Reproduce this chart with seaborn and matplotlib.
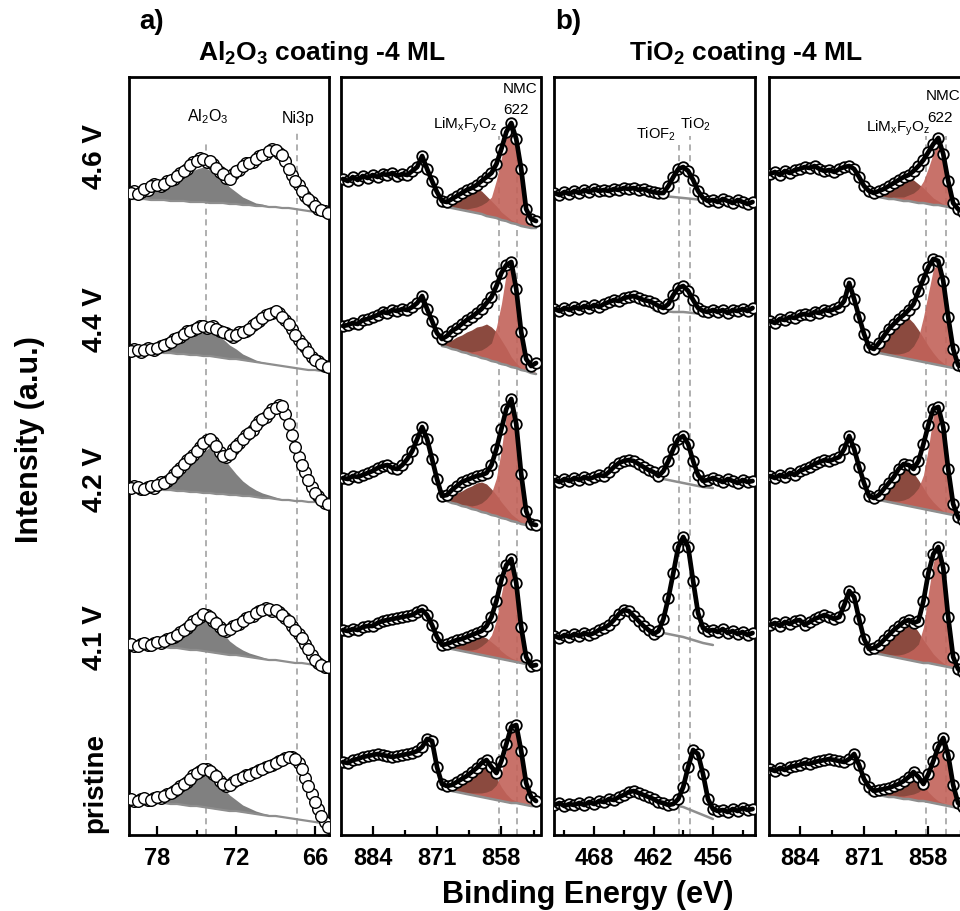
import numpy as np
import pandas as pd
import matplotlib
matplotlib.use("Agg")
import matplotlib.pyplot as plt
from matplotlib import font_manager as fm
import seaborn as sns

# ---------------- data ----------------
ROWS = ["4.6 V", "4.4 V", "4.2 V", "4.1 V", "pristine"]

# Panel a-left : Al 2p / Ni 3p region (Al2O3 coating)
E_AL = [80.0, 79.5, 79.0, 78.5, 78.0, 77.5, 77.0, 76.5, 76.0, 75.5, 75.0, 74.5, 74.0, 73.5, 73.0, 72.5,
        72.0, 71.5, 71.0, 70.5, 70.0, 69.5, 69.0, 68.5, 68.0, 67.5, 67.0, 66.5, 66.0, 65.5, 65.0]
E_AL_MID = [79.75, 79.25, 78.75, 78.25, 77.75, 77.25, 76.75, 76.25, 75.75, 75.25, 74.75, 74.25, 73.75,
            73.25, 72.75, 72.25, 71.75, 71.25, 70.75, 70.25, 69.75, 69.25, 68.75, 68.25, 67.75, 67.25,
            66.75, 66.25, 65.75, 65.25]
OFF_AL = [620, 460, 320, 156, 0]
AL_46 = [22, 21, 26, 29, 30, 31, 35, 39, 44, 50, 54, 56, 54, 47, 41, 36, 44, 49, 52, 56, 60, 64, 65, 60, 46, 34, 24, 16, 9, 5, 2]
AL_44 = [24, 25, 25, 26, 27, 30, 33, 37, 41, 44, 47, 49, 48, 46, 43, 40, 40, 43, 46, 52, 57, 61, 64, 58, 51, 40, 31, 23, 15, 11, 8]
AL_42 = [27, 28, 26, 29, 30, 32, 37, 44, 51, 57, 64, 72, 76, 69, 59, 61, 69, 76, 82, 90, 96, 102, 107, 109, 91, 68, 50, 35, 22, 15, 11]
AL_41 = [35, 33, 36, 34, 37, 38, 41, 44, 49, 54, 60, 65, 62, 56, 49, 50, 54, 58, 62, 66, 69, 70, 69, 64, 58, 49, 41, 30, 19, 14, 12]
AL_PR = [36, 34, 37, 35, 38, 39, 42, 46, 51, 56, 62, 66, 64, 59, 51, 50, 55, 58, 60, 63, 66, 69, 72, 75, 78, 76, 66, 49, 33, 19, 8]
AL_46_MID = [24, 23, 25, 31, 29, 34, 36, 42, 46, 53, 57, 53, 51, 43, 37, 41, 45, 52, 53, 59, 61, 66, 62, 54, 40, 30, 19, 13, 6, 4]
AL_44_MID = [26, 23, 27, 25, 29, 31, 36, 38, 44, 45, 49, 47, 49, 44, 42, 38, 43, 44, 50, 54, 60, 62, 62, 55, 46, 35, 28, 18, 14, 9]
AL_42_MID = [29, 26, 28, 27, 33, 34, 41, 47, 55, 60, 68, 75, 73, 63, 58, 66, 72, 80, 85, 94, 98, 106, 110, 101, 80, 58, 43, 28, 19, 12]
AL_41_MID = [33, 35, 34, 36, 36, 40, 42, 47, 51, 58, 62, 64, 58, 52, 48, 53, 55, 61, 63, 68, 71, 68, 67, 61, 53, 45, 35, 24, 16, 12]
AL_PR_MID = [34, 36, 35, 37, 37, 41, 44, 49, 53, 60, 64, 66, 61, 54, 49, 53, 56, 60, 62, 65, 68, 70, 74, 77, 78, 72, 57, 41, 26, 13]
AL_BG_46 = [16, 16, 16, 15, 15, 15, 14, 14, 14, 13, 13, 13, 12, 12, 12, 11, 11, 10, 10, 9, 9, 8, 8, 7, 7, 6, 5, 4, 3, 3, 2]
AL_BG_44 = [24, 24, 23, 23, 23, 22, 22, 21, 21, 20, 20, 19, 19, 18, 17, 16, 16, 15, 14, 13, 12, 11, 10, 9, 8, 7, 6, 5, 5, 4, 3]
AL_BG_42 = [27, 27, 26, 26, 26, 25, 25, 24, 24, 23, 23, 22, 22, 21, 21, 20, 20, 19, 19, 18, 17, 17, 16, 15, 15, 14, 14, 13, 13, 12, 12]
AL_BG_41 = [34, 34, 33, 33, 32, 32, 31, 31, 30, 29, 29, 28, 27, 26, 25, 24, 24, 23, 22, 21, 20, 19, 19, 18, 17, 16, 16, 15, 14, 14, 13]
AL_BG_PR = [34, 34, 33, 33, 32, 32, 31, 31, 30, 29, 29, 28, 27, 26, 25, 24, 24, 23, 22, 21, 20, 19, 19, 18, 17, 16, 15, 14, 13, 12, 11]
AL_OX_46 = [3, 4, 6, 9, 11, 14, 17, 21, 25, 30, 33, 35, 33, 29, 23, 17, 12, 8, 5, 3, 2, 1, 0.5, 0, 0, 0, 0, 0, 0, 0, 0]
AL_OX_44 = [1, 2, 3, 4, 6, 8, 10, 14, 18, 23, 26, 28, 27, 24, 19, 14, 10, 6, 4, 2, 1, 1, 0, 0, 0, 0, 0, 0, 0, 0, 0]
AL_OX_42 = [2, 3, 4, 5, 7, 9, 12, 16, 21, 27, 34, 41, 46, 44, 37, 29, 21, 15, 10, 7, 5, 3, 2, 1, 1, 0.5, 0, 0, 0, 0, 0]
AL_OX_41 = [1, 1, 2, 2, 3, 4, 6, 9, 13, 19, 26, 31, 32, 28, 21, 14, 9, 6, 4, 3, 2, 1, 1, 0, 0, 0, 0, 0, 0, 0, 0]
AL_OX_PR = [1, 2, 2, 3, 4, 5, 7, 11, 16, 22, 28, 33, 33, 29, 22, 16, 11, 7, 5, 3, 2, 1.5, 1, 0.5, 0, 0, 0, 0, 0, 0, 0]

# Ni 2p region (both coatings)
E_NI = [890, 889, 888, 887, 886, 885, 884, 883, 882, 881, 880, 879, 878, 877, 876, 875, 874, 873, 872, 871,
        870, 869, 868, 867, 866, 865, 864, 863, 862, 861, 860, 859, 858, 857, 856, 855, 854, 853, 852, 851]
E_NI_FIT = [870, 869, 868, 867, 866, 865, 864, 863, 862, 861, 860, 859, 858, 857, 856, 855, 854, 853, 852, 851]

# Al2O3-coated, Ni 2p
OFF_NIA = [600, 460, 300, 160, 20]
NIA_46 = [56, 54, 58, 55, 59, 57, 60, 58, 61, 60, 62, 59, 61, 60, 64, 68, 79, 66, 54, 43,
          34, 33, 36, 39, 42, 45, 47, 50, 54, 58, 62, 71, 86, 103, 112, 96, 66, 26, 16, 14]
NIA_44 = [49, 50, 52, 51, 55, 56, 58, 60, 63, 62, 65, 64, 66, 65, 68, 72, 79, 66, 54, 42,
          36, 39, 44, 47, 51, 55, 58, 62, 66, 72, 78, 89, 102, 110, 113, 86, 43, 16, 9, 12]
NIA_42 = [57, 56, 59, 58, 60, 62, 64, 67, 69, 70, 67, 66, 70, 76, 84, 96, 108, 96, 76, 56,
          39, 40, 45, 49, 53, 55, 57, 59, 60, 62, 70, 86, 106, 126, 136, 111, 61, 24, 11, 10]
NIA_41 = [45, 44, 46, 45, 48, 49, 49, 52, 54, 55, 56, 57, 58, 59, 60, 63, 65, 60, 50, 38,
          30, 31, 33, 35, 36, 38, 40, 42, 44, 49, 58, 74, 95, 110, 116, 92, 48, 18, 9, 10]
NIA_PR = [53, 52, 55, 56, 58, 59, 60, 61, 60, 59, 58, 59, 60, 61, 62, 64, 68, 76, 74, 48,
          31, 29, 30, 33, 36, 39, 43, 47, 52, 55, 48, 42, 54, 71, 88, 90, 64, 32, 18, 14]
NIA_BG_46 = [29, 28, 27, 26, 25, 24, 23, 22, 21, 19, 18, 17, 15, 14, 12, 11, 9, 8, 7, 7]
NIA_BG_44 = [29, 28, 26, 25, 23, 22, 20, 19, 17, 16, 14, 13, 11, 10, 8, 7, 5, 4, 2, 1]
NIA_BG_42 = [35, 34, 32, 31, 29, 28, 26, 25, 23, 22, 20, 19, 17, 16, 14, 13, 11, 10, 8, 7]
NIA_BG_41 = [28, 27, 26, 25, 24, 23, 22, 21, 20, 19, 18, 17, 16, 15, 14, 13, 12, 11, 10, 9]
NIA_BG_PR = [26, 25, 24, 23, 22, 21, 20, 19, 18, 17, 16, 15, 14, 13, 12, 12, 11, 10, 9, 9]
NIA_LIM_46 = [2, 4, 7, 11, 15, 19, 22, 24, 23, 20, 16, 12, 8, 5, 3, 2, 1, 0, 0, 0]
NIA_LIM_44 = [2, 5, 9, 13, 17, 21, 25, 29, 32, 35, 34, 30, 24, 17, 10, 5, 2, 1, 0, 0]
NIA_LIM_42 = [2, 4, 7, 11, 15, 19, 23, 27, 30, 29, 26, 21, 16, 11, 7, 4, 2, 1, 0, 0]
NIA_LIM_41 = [1, 2, 4, 6, 9, 12, 15, 18, 19, 18, 15, 12, 8, 5, 3, 2, 1, 0, 0, 0]
NIA_LIM_PR = [2, 4, 7, 11, 15, 20, 25, 30, 33, 34, 30, 22, 14, 8, 4, 2, 1, 0, 0, 0]
NIA_NMC_46 = [0, 0, 0, 0, 1, 2, 4, 6, 9, 14, 20, 38, 62, 85, 96, 78, 45, 14, 5, 2]
NIA_NMC_44 = [0, 0, 0, 0, 1, 2, 3, 5, 8, 12, 18, 35, 60, 92, 100, 76, 36, 12, 4, 1]
NIA_NMC_42 = [0, 0, 0, 0, 1, 2, 3, 5, 9, 14, 22, 38, 68, 105, 120, 95, 48, 14, 3, 1]
NIA_NMC_41 = [0, 0, 0, 0, 1, 2, 3, 5, 9, 14, 22, 38, 65, 90, 101, 79, 37, 9, 2, 1]
NIA_NMC_PR = [0, 0, 0, 0, 0, 1, 2, 3, 4, 6, 9, 15, 28, 52, 74, 76, 50, 20, 6, 2]

# TiO2-coated, Ti 2p
E_TI = [472.0, 471.5, 471.0, 470.5, 470.0, 469.5, 469.0, 468.5, 468.0, 467.5, 467.0, 466.5, 466.0, 465.5,
        465.0, 464.5, 464.0, 463.5, 463.0, 462.5, 462.0, 461.5, 461.0, 460.5, 460.0, 459.5, 459.0, 458.5,
        458.0, 457.5, 457.0, 456.5, 456.0, 455.5, 455.0, 454.5, 454.0, 453.5, 453.0, 452.5, 452.0]
E_TI_BG = [462, 461, 460, 459, 458, 457, 456]
OFF_TI = [620, 500, 340, 182, 10]
TI_46 = [22, 20, 23, 21, 24, 22, 25, 23, 26, 24, 25, 24, 26, 25, 27, 26, 27, 25, 26, 24, 23, 22, 22, 29,
         38, 46, 48, 44, 35, 24, 17, 14, 15, 13, 16, 14, 12, 15, 13, 11, 13]
TI_44 = [26, 24, 27, 25, 28, 26, 29, 27, 30, 28, 31, 33, 35, 34, 37, 38, 39, 37, 35, 34, 32, 29, 27, 31,
         40, 47, 49, 44, 35, 27, 24, 23, 25, 23, 25, 22, 25, 24, 26, 24, 27]
TI_42 = [15, 13, 16, 14, 17, 15, 18, 16, 18, 20, 19, 23, 28, 32, 34, 35, 34, 31, 28, 25, 23, 19, 24, 34,
         46, 56, 59, 51, 34, 20, 14, 15, 17, 15, 13, 16, 14, 12, 15, 13, 14]
TI_41 = [17, 15, 18, 16, 19, 17, 20, 18, 20, 23, 25, 28, 33, 39, 43, 42, 37, 32, 27, 23, 19, 22, 34, 55,
         80, 106, 116, 106, 72, 40, 25, 22, 23, 21, 24, 20, 22, 19, 21, 18, 20]
TI_PR = [20, 22, 19, 21, 20, 22, 20, 23, 21, 24, 23, 26, 25, 28, 30, 33, 34, 32, 30, 28, 26, 23, 22, 20,
         21, 26, 38, 58, 75, 71, 51, 26, 16, 14, 15, 13, 16, 14, 17, 15, 16]
TI_BG_46 = [20, 19, 18, 17, 16, 15, 14]
TI_BG_44 = [25, 24, 23, 23, 22, 21, 20]
TI_BG_42 = [18, 16, 14, 12, 10, 8, 7]
TI_BG_41 = [20, 20, 18, 16, 13, 10, 8]
TI_BG_PR = [24, 22, 20, 18, 14, 10, 6]

# TiO2-coated, Ni 2p
OFF_NIT = [610, 460, 300, 150, 20]
NIT_46 = [51, 53, 50, 54, 52, 55, 56, 58, 57, 59, 56, 54, 55, 53, 56, 58, 59, 56, 48, 39,
          34, 32, 34, 36, 39, 42, 45, 48, 50, 54, 59, 65, 73, 81, 87, 71, 44, 22, 16, 13]
NIT_44 = [54, 52, 56, 55, 58, 57, 60, 61, 60, 63, 62, 65, 64, 66, 68, 74, 92, 76, 58, 41,
          28, 26, 32, 39, 46, 51, 56, 60, 65, 71, 84, 96, 108, 116, 114, 94, 58, 26, 10, 8]
NIT_42 = [59, 57, 60, 58, 62, 60, 64, 66, 68, 71, 73, 75, 74, 76, 78, 86, 99, 86, 68, 52,
          39, 37, 40, 46, 52, 58, 66, 71, 70, 66, 74, 91, 110, 126, 128, 108, 66, 31, 18, 15]
NIT_41 = [60, 62, 59, 63, 61, 64, 65, 60, 63, 66, 68, 70, 68, 66, 68, 80, 94, 88, 66, 46,
          36, 37, 40, 45, 50, 55, 59, 63, 65, 62, 64, 84, 112, 131, 138, 117, 68, 28, 16, 13]
NIT_PR = [46, 44, 47, 45, 48, 49, 50, 52, 51, 53, 54, 55, 56, 55, 54, 53, 56, 61, 50, 36,
          28, 24, 25, 26, 27, 29, 31, 34, 38, 43, 38, 31, 41, 54, 68, 77, 60, 30, 12, 8]
NIT_BG_46 = [29, 28, 28, 27, 26, 26, 25, 24, 24, 23, 22, 22, 21, 20, 20, 19, 18, 17, 16, 15]
NIT_BG_44 = [24, 23, 22, 21, 20, 19, 18, 17, 16, 15, 14, 13, 12, 11, 10, 9, 8, 7, 6, 5]
NIT_BG_42 = [37, 36, 35, 34, 33, 32, 31, 30, 29, 28, 27, 26, 25, 24, 23, 22, 21, 20, 18, 16]
NIT_BG_41 = [33, 32, 31, 30, 29, 28, 27, 26, 25, 24, 23, 22, 22, 21, 20, 19, 18, 17, 16, 15]
NIT_BG_PR = [21, 20, 20, 19, 18, 18, 17, 16, 16, 15, 14, 14, 13, 12, 11, 10, 9, 8, 7, 6]
NIT_LIM_46 = [2, 4, 6, 9, 12, 15, 18, 21, 23, 22, 19, 15, 11, 7, 4, 2, 1, 0, 0, 0]
NIT_LIM_44 = [1, 3, 8, 18, 25, 32, 38, 42, 41, 37, 31, 24, 17, 11, 6, 3, 1, 0, 0, 0]
NIT_LIM_42 = [2, 4, 7, 11, 17, 24, 32, 39, 38, 34, 28, 21, 14, 9, 5, 2, 1, 0, 0, 0]
NIT_LIM_41 = [2, 5, 9, 14, 20, 26, 32, 36, 38, 36, 30, 23, 16, 10, 6, 3, 1, 0, 0, 0]
NIT_LIM_PR = [1, 2, 3, 5, 7, 10, 13, 17, 22, 26, 23, 16, 10, 6, 3, 2, 1, 0, 0, 0]
NIT_NMC_46 = [0, 0, 0, 0, 1, 2, 3, 4, 6, 9, 14, 22, 36, 52, 64, 50, 25, 7, 3, 1]
NIT_NMC_44 = [0, 0, 0, 0, 1, 2, 3, 5, 8, 14, 24, 45, 70, 95, 102, 82, 45, 16, 5, 1]
NIT_NMC_42 = [0, 0, 0, 0, 1, 2, 3, 5, 8, 13, 20, 34, 62, 96, 103, 84, 44, 12, 3, 1]
NIT_NMC_41 = [0, 0, 0, 0, 1, 2, 3, 5, 8, 12, 18, 36, 70, 102, 114, 96, 46, 15, 5, 1]
NIT_NMC_PR = [0, 0, 0, 0, 0, 1, 2, 3, 4, 6, 9, 13, 20, 36, 56, 66, 52, 22, 6, 2]

# reference lines (eV)
REF_AL = [74.3, 67.35]
REF_NIA = [858.4, 854.9]
REF_TI = [459.45, 458.3]
REF_NIT = [858.4, 854.35]

# ---------------- style ----------------
sns.set_theme(style="white")
plt.rcParams["font.family"] = ["Liberation Sans", "DejaVu Sans"]
plt.rcParams["mathtext.default"] = "regular"
plt.rcParams["text.color"] = "black"
plt.rcParams["axes.labelcolor"] = "black"
plt.rcParams["xtick.color"] = "black"
plt.rcParams["ytick.color"] = "black"
names = {f.name for f in fm.fontManager.ttflist}
TICKFONT = "Liberation Sans Narrow" if "Liberation Sans Narrow" in names else "Liberation Sans"
TICKSIZE = 19 if TICKFONT == "Liberation Sans Narrow" else 17

C_GRAYFILL = "#808080"
C_BG = "#8e8e8e"
C_LIM = "#8b4a3f"
C_NMC = "#c2635a"
C_REF = "#9a9a9a"

W, H = 960, 912
fig = plt.figure(figsize=(W / 100, H / 100), dpi=100)


def make_axes(left_px, width_px):
    return fig.add_axes([left_px / W, 76 / H, width_px / W, 758 / H])


def style(ax, xlim, major, minor):
    ax.set_xlim(*xlim)
    ax.set_ylim(0, 758)
    ax.set_xticks(major)
    ax.set_xticklabels([str(m) for m in major], fontweight="bold", fontfamily=TICKFONT,
                       fontsize=TICKSIZE, color="black")
    ax.set_xticks(minor, minor=True)
    ax.set_yticks([])
    ax.tick_params(axis="x", which="major", direction="in", length=6.5, width=1.6, pad=8,
                   bottom=True, top=False, colors="black")
    ax.tick_params(axis="x", which="minor", direction="in", length=3.5, width=1.6,
                   bottom=True, top=False, colors="black")
    for s in ax.spines.values():
        s.set_visible(True)
        s.set_linewidth(2.0)
        s.set_color("black")
    ax.set_xlabel("")
    ax.set_ylabel("")
    ax.set_facecolor("white")


def ref_lines(ax, xs, tops):
    for x, t in zip(xs, tops):
        ax.axvline(x, ymin=0, ymax=t / 758, color=C_REF, lw=1.1, ls=(0, (4, 3)), zorder=1)


def points(ax, x, y, s, lw=1.1):
    sns.scatterplot(x=x, y=y, ax=ax, s=s, color="white", edgecolor="black", linewidth=lw,
                    zorder=4, legend=False)


def fitline(ax, x, y, lw=2.6, color="black", z=5):
    df = pd.DataFrame({"E": x, "I": y})
    sns.lineplot(data=df, x="E", y="I", ax=ax, color=color, lw=lw, sort=False, estimator=None, zorder=z)


# ---- panel 1: Al2O3 coating, Al2p / Ni3p
ax1 = make_axes(128.5, 200.2)
ref_lines(ax1, REF_AL, [691, 704])
for off, d, dm, bg, ox in zip(OFF_AL, [AL_46, AL_44, AL_42, AL_41, AL_PR],
                              [AL_46_MID, AL_44_MID, AL_42_MID, AL_41_MID, AL_PR_MID],
                              [AL_BG_46, AL_BG_44, AL_BG_42, AL_BG_41, AL_BG_PR],
                              [AL_OX_46, AL_OX_44, AL_OX_42, AL_OX_41, AL_OX_PR]):
    b = off + np.array(bg, float)
    ax1.fill_between(E_AL, b, b + np.array(ox, float), color=C_GRAYFILL, lw=0, zorder=2)
    fitline(ax1, E_AL, b, lw=1.6, color=C_BG, z=3)
    points(ax1, E_AL_MID, off + np.array(dm, float), 70, lw=1.0)
    points(ax1, E_AL, off + np.array(d, float), 70, lw=1.0)
style(ax1, (80.2, 64.95), [78, 72, 66], [75, 69])
ax1.text(74.2, 719, "Al$_2$O$_3$", ha="center", va="center", fontsize=11.5)
ax1.text(67.3, 718, "Ni3p", ha="center", va="center", fontsize=11.5)


def ni_panel(ax, offs, datas, bgs, lims, nmcs):
    for off, d, bg, lim, nmc in zip(offs, datas, bgs, lims, nmcs):
        b = off + np.array(bg, float)
        ax.fill_between(E_NI_FIT, b, b + np.array(lim, float), color=C_LIM, lw=0, zorder=2)
        ax.fill_between(E_NI_FIT, b, b + np.array(nmc, float), color=C_NMC, alpha=0.9, lw=0, zorder=2.1)
        fitline(ax, E_NI_FIT, b, lw=1.8, color=C_BG, z=3)
        y = off + np.array(d, float)
        points(ax, E_NI, y, 58, lw=1.3)
        fitline(ax, E_NI, y, lw=3.4)


# ---- panel 2: Al2O3 coating, Ni2p
ax2 = make_axes(341.4, 199.1)
ref_lines(ax2, REF_NIA, [699, 699])
ni_panel(ax2, OFF_NIA, [NIA_46, NIA_44, NIA_42, NIA_41, NIA_PR],
         [NIA_BG_46, NIA_BG_44, NIA_BG_42, NIA_BG_41, NIA_BG_PR],
         [NIA_LIM_46, NIA_LIM_44, NIA_LIM_42, NIA_LIM_41, NIA_LIM_PR],
         [NIA_NMC_46, NIA_NMC_44, NIA_NMC_42, NIA_NMC_41, NIA_NMC_PR])
style(ax2, (890.3, 850.1), [884, 871, 858], [877.5, 864.5, 851.5])
ax2.text(854.2, 747, "NMC", ha="center", va="center", fontsize=11)
ax2.text(855.0, 726, "622", ha="center", va="center", fontsize=11)
ax2.text(865.3, 711, "LiM$_x$F$_y$O$_z$", ha="center", va="center", fontsize=11)

# ---- panel 3: TiO2 coating, Ti2p
ax3 = make_axes(554.0, 200.5)
ref_lines(ax3, REF_TI, [690, 699])
for off, d, bg in zip(OFF_TI, [TI_46, TI_44, TI_42, TI_41, TI_PR],
                      [TI_BG_46, TI_BG_44, TI_BG_42, TI_BG_41, TI_BG_PR]):
    fitline(ax3, E_TI_BG, off + np.array(bg, float), lw=1.8, color=C_BG, z=3)
    y = off + np.array(d, float)
    points(ax3, E_TI, y, 58, lw=1.3)
    fitline(ax3, E_TI, y, lw=3.4)
style(ax3, (472.05, 451.8), [468, 462, 456], [471, 465, 459, 453])
ax3.text(461.8, 702, "TiOF$_2$", ha="center", va="center", fontsize=10.5)
ax3.text(457.8, 712, "TiO$_2$", ha="center", va="center", fontsize=10.5)

# ---- panel 4: TiO2 coating, Ni2p (cut at the right edge)
ax4 = make_axes(768.5, 199.0)
ref_lines(ax4, REF_NIT, [699, 699])
ni_panel(ax4, OFF_NIT, [NIT_46, NIT_44, NIT_42, NIT_41, NIT_PR],
         [NIT_BG_46, NIT_BG_44, NIT_BG_42, NIT_BG_41, NIT_BG_PR],
         [NIT_LIM_46, NIT_LIM_44, NIT_LIM_42, NIT_LIM_41, NIT_LIM_PR],
         [NIT_NMC_46, NIT_NMC_44, NIT_NMC_42, NIT_NMC_41, NIT_NMC_PR])
style(ax4, (890.3, 850.1), [884, 871, 858], [877.5, 864.5, 851.5])
ax4.text(855.0, 740, "NMC", ha="center", va="center", fontsize=11)
ax4.text(855.6, 718, "622", ha="center", va="center", fontsize=11)
ax4.text(864.1, 708, "LiM$_x$F$_y$O$_z$", ha="center", va="center", fontsize=11)

# ---- figure texts
fig.text(152 / W, 1 - 22 / H, "a)", ha="center", va="center", fontsize=20, fontweight="bold")
fig.text(568 / W, 1 - 22 / H, "b)", ha="center", va="center", fontsize=20, fontweight="bold")
fig.text(322 / W, 1 - 53 / H, "Al$_2$O$_3$ coating -4 ML", ha="center", va="center", fontsize=19, fontweight="bold")
fig.text(746 / W, 1 - 53 / H, "TiO$_2$ coating -4 ML", ha="center", va="center", fontsize=19, fontweight="bold")
fig.text(588 / W, 1 - 895 / H, "Binding Energy (eV)", ha="center", va="center", fontsize=22, fontweight="bold")
fig.text(30 / W, 1 - 440 / H, "Intensity (a.u.)", ha="center", va="center", rotation=90, fontsize=22, fontweight="bold")
for lab, ypx in zip(ROWS, [157, 320, 480, 638, 783]):
    fig.text(95 / W, 1 - ypx / H, lab, ha="center", va="center", rotation=90, fontsize=20, fontweight="bold")

fig.savefig("out.png", dpi=100, facecolor="white")
